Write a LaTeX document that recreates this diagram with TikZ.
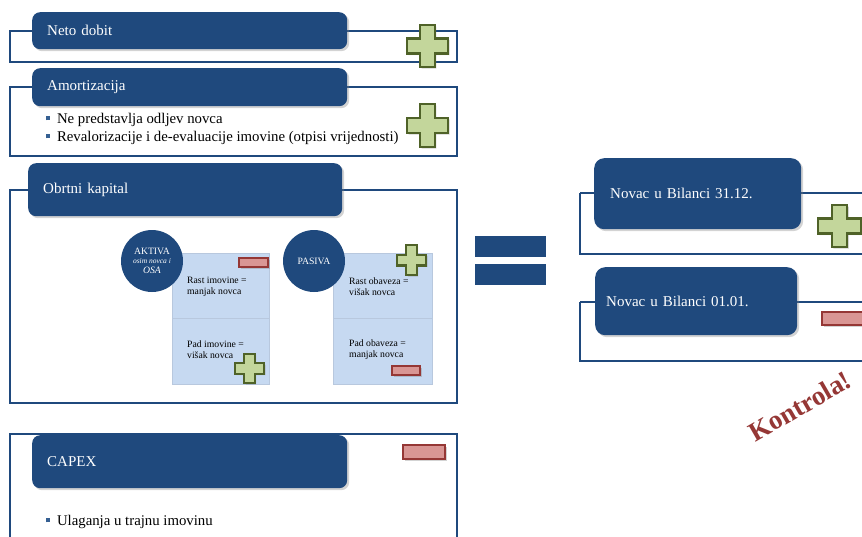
\documentclass[tikz,border=0pt]{standalone}
\usepackage{fontspec}
\setmainfont{Liberation Serif}
\usetikzlibrary{shadows}
\definecolor{nblue}{RGB}{31,73,125}
\definecolor{lblue}{RGB}{198,217,241}
\definecolor{lbline}{RGB}{184,200,222}
\definecolor{pfill}{RGB}{195,214,155}
\definecolor{pline}{RGB}{79,98,40}
\definecolor{mfill}{RGB}{217,150,148}
\definecolor{mline}{RGB}{149,55,53}
\definecolor{bulblue}{RGB}{54,96,146}
\newcommand\fsz[2]{\fontsize{#1}{#2}\selectfont}
\newcommand\bul{\textcolor{bulblue}{\rule[0.22em]{0.28em}{0.28em}}\hspace{0.45em}}
\newcommand\plusicon[4]{% x y w h
  \pgfmathsetmacro\pxa{0.32*#3}\pgfmathsetmacro\pxb{0.68*#3}%
  \pgfmathsetmacro\pya{0.32*#4}\pgfmathsetmacro\pyb{0.68*#4}%
  \begin{scope}[shift={(#1,#2)}]
  \filldraw[plusst] (\pxa,0)--(\pxb,0)--(\pxb,\pya)--(#3,\pya)--(#3,\pyb)--(\pxb,\pyb)--(\pxb,#4)--(\pxa,#4)--(\pxa,\pyb)--(0,\pyb)--(0,\pya)--(\pxa,\pya)--cycle;
  \end{scope}}
\newcommand\minusicon[4]{%
  \filldraw[minusst] (#1,#2) rectangle ++(#3,#4);}
\begin{document}
\begin{tikzpicture}[x=1pt,y=-1pt,
  frame/.style={draw=nblue,line width=2pt},
  title/.style={fill=nblue,rounded corners=8pt,text=white,anchor=north west,
    inner xsep=15pt,align=left,font=\fsz{15}{17},
    drop shadow={shadow xshift=2pt,shadow yshift=-2pt,opacity=0.35}},
  plusst/.style={fill=pfill,draw=pline,line width=2.2pt,line join=miter,
    drop shadow={shadow xshift=1.5pt,shadow yshift=-1.5pt,opacity=0.35}},
  minusst/.style={fill=mfill,draw=mline,line width=1.6pt,
    drop shadow={shadow xshift=1.5pt,shadow yshift=-1.5pt,opacity=0.35}},
  bodytxt/.style={anchor=west,align=left,inner sep=0pt,font=\fsz{14.8}{18}},
  lbox/.style={fill=lblue,draw=lbline,line width=0.6pt,anchor=north west,inner sep=0pt,
    drop shadow={shadow xshift=1pt,shadow yshift=-1pt,opacity=0.2}},
  smalltxt/.style={anchor=west,align=left,inner sep=0pt,font=\fsz{9.7}{11}},
  circ/.style={circle,fill=nblue,text=white,minimum size=62pt,inner sep=0pt,align=center,font=\fsz{9.7}{10}}
]
\clip (0,0) rectangle (862,536);

% Neto dobit
\draw[frame] (10,31) rectangle (457,62);
\node[title,text width=285pt,minimum height=37pt] (neto) at (32,12) {Neto dobit};
\plusicon{407}{25}{41}{42}

% Amortizacija
\draw[frame] (10,87) rectangle (457,156);
\node[title,text width=285pt,minimum height=38pt] (amort) at (32,68) {Amortizacija};
\node[bodytxt] (amortlist) at (46,129) {\bul Ne predstavlja odljev novca\\\bul Revalorizacije i de-evaluacije imovine (otpisi vrijednosti)};
\plusicon{407}{104}{41}{43}

% Obrtni kapital
\draw[frame] (10,190) rectangle (457,403);
\node[title,text width=284pt,minimum height=53pt] (obrtni) at (28,163) {Obrtni kapital};

\node[lbox,minimum width=97pt,minimum height=131pt] (aktbox) at (172,253) {};
\draw[lbline,line width=0.8pt] (172,318) -- (269,318);
\node[smalltxt] (rastim) at (187,287) {Rast imovine =\\manjak novca};
\node[smalltxt] (padim) at (187,350) {Pad imovine =\\višak novca};
\minusicon{239}{258}{29}{9}
\plusicon{235}{354}{29}{29}

\node[lbox,minimum width=99pt,minimum height=131pt] (pasbox) at (333,253) {};
\draw[lbline,line width=0.8pt] (333,318) -- (432,318);
\node[smalltxt] (rastob) at (349,287) {Rast obaveza =\\višak novca};
\node[smalltxt] (padob) at (349,350) {Pad obaveza =\\manjak novca};
\plusicon{397}{245}{29}{30}
\minusicon{392}{366}{28}{9}

\node[circ] (aktiva) at (152,261) {AKTIVA\\[-1pt]{\itshape\fsz{7.5}{9}osim novca i}\\{\itshape OSA}};
\node[circ] (pasiva) at (314,261) {PASIVA};

% CAPEX
\draw[frame] (10,434) rectangle (457,560);
\node[title,text width=285pt,minimum height=53pt] (capex) at (32,435) {CAPEX};
\minusicon{403}{445}{42}{14}
\node[bodytxt] (capexlist) at (46,522) {\bul Ulaganja u trajnu imovinu};

% equals
\fill[nblue] (475,236) rectangle (546,257);
\fill[nblue] (475,264) rectangle (546,285);

% Novac boxes
\draw[frame] (580,193) -- (580,254) -- (880,254);
\draw[frame] (580,193) -- (880,193);
\node[title,rounded corners=10pt,text width=175pt,minimum height=71pt,inner xsep=16pt] (nov1) at (594,158) {Novac u Bilanci 31.12.};
\plusicon{818}{205}{43}{42}

\draw[frame] (580,302) -- (580,361) -- (880,361);
\draw[frame] (580,302) -- (880,302);
\node[title,rounded corners=10pt,text width=180pt,minimum height=68pt,inner xsep=11pt] (nov2) at (595,267) {Novac u Bilanci 01.01.};
\minusicon{822}{312}{50}{13}

% Kontrola
\node[rotate=30,text=mline,font=\bfseries\fsz{27}{30}] (kontrola) at (800,406) {Kontrola!};
\end{tikzpicture}
\end{document}
